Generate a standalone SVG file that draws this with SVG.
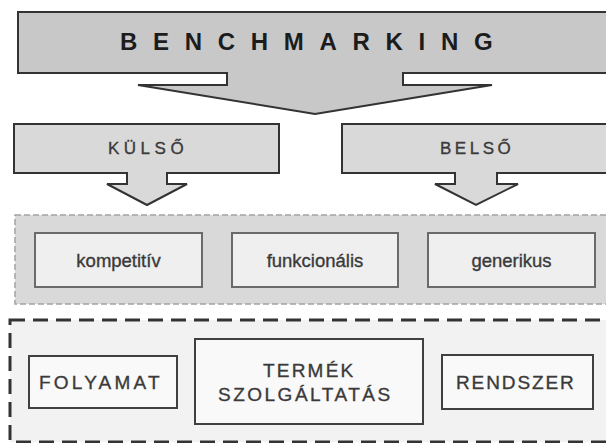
<svg xmlns="http://www.w3.org/2000/svg" width="606" height="443" viewBox="0 0 606 443">
<style>
.arrowshape{stroke:#333;stroke-width:2;stroke-linejoin:miter}
.t{font-family:"Liberation Sans",Arial,sans-serif;fill:#3a3a3a;stroke:#3a3a3a;stroke-width:0.35}
.cap{font-size:19px}
.lc{font-size:18.5px;text-anchor:middle}
.panel1{fill:#d9d9d9;stroke:#a3a3a3;stroke-width:1.5;stroke-dasharray:6 3}
.panel2{fill:#f2f2f2;stroke:#333;stroke-width:3;stroke-dasharray:15 8}
.ibox{fill:#efefef;stroke:#6a6a6a;stroke-width:2}
.lbox{fill:#f9f9f9;stroke:#404040;stroke-width:2}
</style>
<rect width="606" height="443" fill="#ffffff"/>
<g id="benchmarking">
<polygon class="arrowshape" fill="#c8c8c8" points="18,12 612,12 612,73 403,73 403,85 492,85 315,114 138,85 227,85 227,73 18,73"/>
<text x="120" y="50" font-family="Liberation Sans, Arial, sans-serif" font-size="24" font-weight="bold" letter-spacing="15.7" fill="#1c1c1c">BENCHMARKING</text>
</g>
<g id="kulso">
<polygon class="arrowshape" fill="#d9d9d9" points="14,124 279,124 279,173 167,173 167,184 187,184 147,205 107,184 127,184 127,173 14,173"/>
<text class="t" x="108" y="154" font-size="17" letter-spacing="4.5">KÜLSŐ</text>
</g>
<g id="belso">
<polygon class="arrowshape" fill="#d9d9d9" points="342,124 612,124 612,173 497,173 497,184 518,184 476,205 435,184 455,184 455,173 342,173"/>
<text class="t" x="440" y="154" font-size="17" letter-spacing="3.5">BELSŐ</text>
</g>
<g id="panel-tipus">
<rect class="panel1" x="15" y="215" width="600" height="89"/>
</g>
<g id="kompetitiv">
<rect class="ibox" x="35" y="233" width="167" height="54"/>
<text class="t lc" x="118.5" y="267">kompetitív</text>
</g>
<g id="funkcionalis">
<rect class="ibox" x="232" y="233" width="166" height="54"/>
<text class="t lc" x="315" y="267">funkcionális</text>
</g>
<g id="generikus">
<rect class="ibox" x="428" y="233" width="167" height="54"/>
<text class="t lc" x="511.5" y="267">generikus</text>
</g>
<g id="panel-terulet">
<rect class="panel2" x="10" y="320" width="605" height="122"/>
</g>
<g id="folyamat">
<rect class="lbox" x="29" y="356" width="148" height="52"/>
<text class="t cap" x="39" y="389" letter-spacing="3.2">FOLYAMAT</text>
</g>
<g id="termek">
<rect class="lbox" x="195" y="339" width="228" height="85"/>
<text class="t cap" x="263" y="377" letter-spacing="2.2">TERMÉK</text>
<text class="t cap" x="218" y="401" letter-spacing="2.5">SZOLGÁLTATÁS</text>
</g>
<g id="rendszer">
<rect class="lbox" x="442" y="355" width="151" height="54"/>
<text class="t cap" x="456" y="389" letter-spacing="1.9">RENDSZER</text>
</g>
</svg>
